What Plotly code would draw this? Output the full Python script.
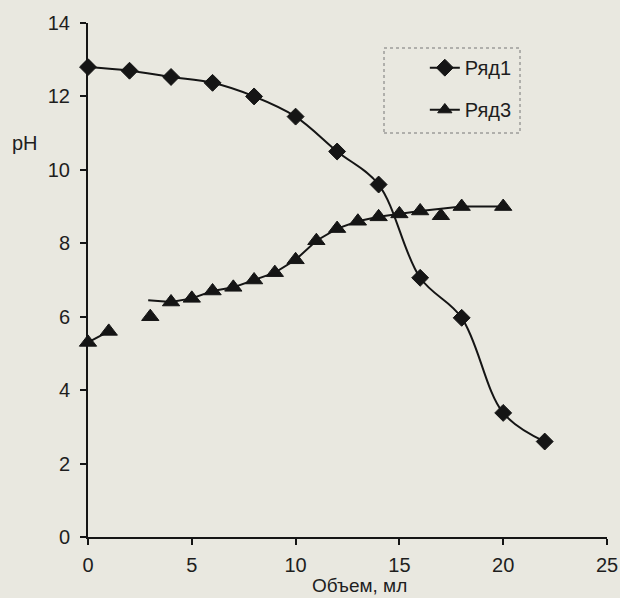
import plotly.graph_objects as go

# Ряд1 (diamonds)
vol1 = [0, 2, 4, 6, 8, 10, 12, 14, 16, 18, 20, 22]
ph1 = [12.8, 12.7, 12.53, 12.37, 12.0, 11.45, 10.5, 9.6, 7.06, 5.97, 3.38, 2.6]

# Ряд3 (triangles); None separates unconnected pieces
vol3 = [0, 1, None, 3, None, 2.9, 4, 5, 6, 7, 8, 9, 10, 11, 12, 13, 14, 15, 16, 18, 20, None, 17]
ph3 = [5.3, 5.6, None, 6.0, None, 6.45, 6.4, 6.5, 6.7, 6.8, 7.0, 7.2, 7.55, 8.07, 8.4, 8.6, 8.72, 8.8, 8.88, 9.0, 9.0, None, 8.75]
size3 = [15 if v is not None and v != 2.9 else 0 for v in vol3]

x_ticks = [0, 5, 10, 15, 20, 25]
y_ticks = [0, 2, 4, 6, 8, 10, 12, 14]

ink = "#151515"
txt = "#1e1e1e"
bg = "#e9e8e0"
font = "Liberation Sans, Arial, sans-serif"

fig = go.Figure()
fig.add_trace(go.Scatter(
    x=vol1, y=ph1, name="Ряд1", mode="lines+markers", legendgroup="a",
    line=dict(color=ink, width=2, shape="spline", smoothing=1.0),
    marker=dict(symbol="diamond", size=13, color=ink, line=dict(color=ink, width=1)),
    cliponaxis=False,
))
fig.add_trace(go.Scatter(
    x=vol3, y=ph3, name="Ряд3", mode="lines+markers", legendgroup="b",
    line=dict(color=ink, width=2, shape="linear"),
    marker=dict(symbol="triangle-up", size=size3, color=ink, opacity=1,
                line=dict(color=ink, width=1)),
    connectgaps=False, cliponaxis=False,
))

fig.update_layout(
    width=620, height=598,
    margin=dict(l=88, r=13, t=23, b=61, autoexpand=False),
    paper_bgcolor=bg, plot_bgcolor=bg,
    font=dict(family=font, size=20, color=txt),
    showlegend=True,
    legend=dict(x=0.649, y=0.951, xanchor="left", yanchor="top",
                bgcolor="rgba(0,0,0,0)", borderwidth=0,
                font=dict(size=20, color=txt),
                traceorder="grouped", tracegroupgap=13),
    xaxis=dict(range=[0, 25], tickvals=x_ticks, showgrid=False, zeroline=False,
               automargin=False,
               showline=True, linecolor=ink, linewidth=2, ticks="outside",
               ticklen=6, tickcolor=ink, tickwidth=2, ticklabelstandoff=3,
               tickfont=dict(size=20, color=txt)),
    yaxis=dict(range=[0, 14], tickvals=y_ticks, showgrid=False, zeroline=False,
               automargin=False,
               showline=True, linecolor=ink, linewidth=2, ticks="outside",
               ticklen=6, tickcolor=ink, tickwidth=2, ticklabelstandoff=6,
               tickfont=dict(size=20, color=txt)),
    annotations=[
        dict(text="pH", xref="paper", yref="paper", x=-0.121, y=0.767,
             xanchor="center", yanchor="middle", showarrow=False,
             font=dict(size=20, color=txt)),
        dict(text="Объем, мл", xref="paper", yref="paper", x=0.524, y=-0.1187,
             xanchor="center", yanchor="bottom", showarrow=False,
             font=dict(size=19, color=txt)),
    ],
    shapes=[dict(type="rect", xref="paper", yref="paper",
                 x0=(384 - 88) / 519, x1=(520 - 88) / 519,
                 y0=(537 - 133) / 514, y1=(537 - 48) / 514,
                 line=dict(color="#777", width=1, dash="dot"))],
)

fig.write_html("out.html", config={"displayModeBar": False},
               post_script="document.body.style.margin='0';document.body.style.overflow='hidden';")
